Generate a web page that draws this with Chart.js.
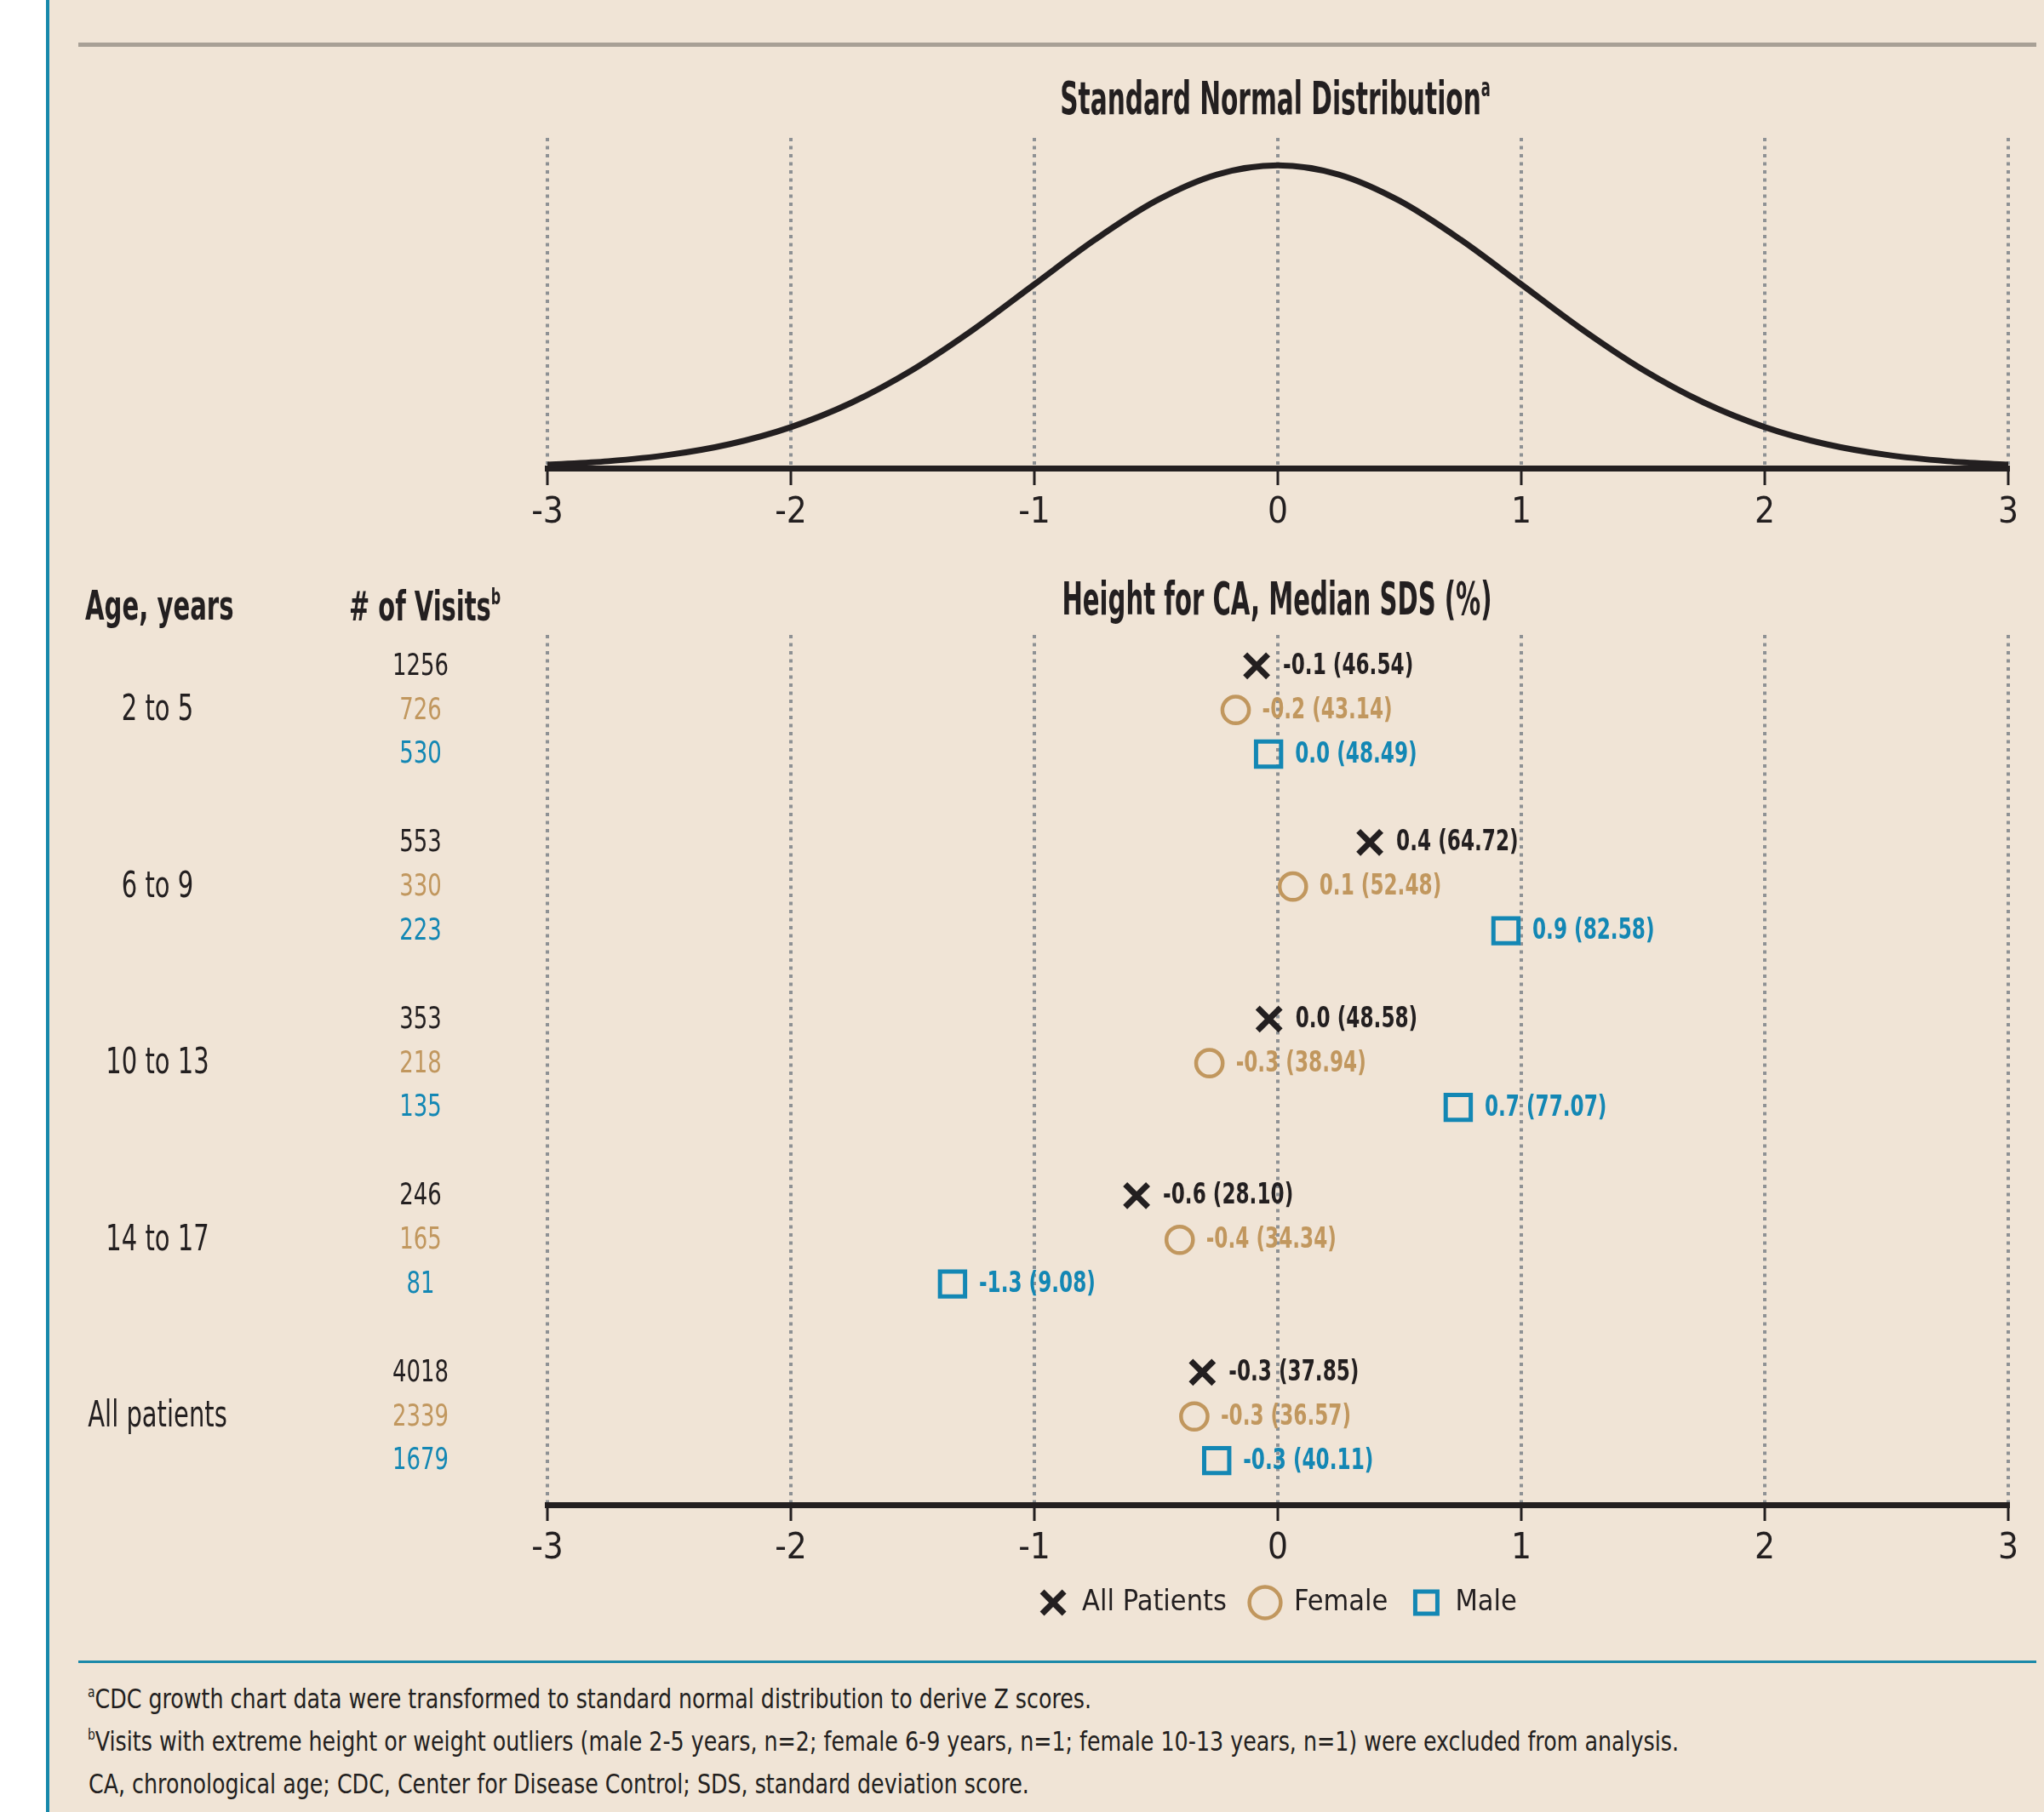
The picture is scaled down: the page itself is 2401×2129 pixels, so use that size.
<!DOCTYPE html>
<html>
<head>
<meta charset="utf-8">
<script src="https://cdn.jsdelivr.net/npm/chart.js@4.4.1/dist/chart.umd.min.js"></script>
<style>
html,body{margin:0;padding:0;}
body{width:2401px;height:2129px;position:relative;background:#ffffff;overflow:hidden;
  font-family:"Liberation Sans Narrow","DejaVu Sans Condensed","Liberation Sans",sans-serif;color:#231F20;}
#panel{position:absolute;left:58px;top:0;width:2343px;height:2129px;background:#F0E4D6;}
#vline{position:absolute;left:54px;top:0;width:4px;height:2129px;background:#1688AB;}
#grayrule{position:absolute;left:92px;top:50px;width:2300px;height:5px;background:#A8A096;}
#tealrule{position:absolute;left:92px;top:1951px;width:2300px;height:3px;background:#1B89A9;}
.chartbox{position:absolute;left:0;width:2401px;}
.t{position:absolute;white-space:nowrap;line-height:1;z-index:5;}
.c{transform-origin:center top;}
.l{transform-origin:left top;}
.b{font-weight:bold;}
.sup{font-size:0.55em;position:relative;top:-0.72em;}
</style>
</head>
<body>
<div id="panel"></div>
<div id="vline"></div>
<div id="grayrule"></div>
<div id="tealrule"></div>

<div class="chartbox" style="top:140px;height:490px;"><canvas id="normalChart"></canvas></div>
<div class="chartbox" style="top:720px;height:1190px;"><canvas id="sdsChart"></canvas></div>

<div class="t b c" style="left:1498px;top:89px;font-size:54px;transform:translateX(-50%) scaleX(0.61);">Standard Normal Distribution<span class="sup">a</span></div>
<div class="t b c" style="left:1500px;top:677px;font-size:54px;transform:translateX(-50%) scaleX(0.6);">Height for CA, Median SDS (%)</div>
<div class="t b l" style="left:100px;top:687px;font-size:48px;transform:scaleX(0.675);">Age, years</div>
<div class="t b l" style="left:410px;top:688px;font-size:48px;transform:scaleX(0.67);"># of Visits<span class="sup">b</span></div>

<div class="t l" style="left:103px;top:1980px;font-size:32px;transform:scaleX(0.88);"><span class="sup">a</span>CDC growth chart data were transformed to standard normal distribution to derive Z scores.</div>
<div class="t l" style="left:103px;top:2030px;font-size:32px;transform:scaleX(0.88);"><span class="sup">b</span>Visits with extreme height or weight outliers (male 2-5 years, n=2; female 6-9 years, n=1; female 10-13 years, n=1) were excluded from analysis.</div>
<div class="t l" style="left:104px;top:2080px;font-size:32px;transform:scaleX(0.88);">CA, chronological age; CDC, Center for Disease Control; SDS, standard deviation score.</div>

<script>
// ---------- DATA ----------
const xTicks = [-3, -2, -1, 0, 1, 2, 3];

// standard normal curve
const curveZ = [-3, -2.75, -2.5, -2.25, -2, -1.75, -1.5, -1.25, -1, -0.75, -0.5, -0.25, 0,
                0.25, 0.5, 0.75, 1, 1.25, 1.5, 1.75, 2, 2.25, 2.5, 2.75, 3];
const curveDensity = [0.0044, 0.0091, 0.0175, 0.0317, 0.0540, 0.0863, 0.1295, 0.1826, 0.2420, 0.3011, 0.3521, 0.3867, 0.3989,
                      0.3867, 0.3521, 0.3011, 0.2420, 0.1826, 0.1295, 0.0863, 0.0540, 0.0317, 0.0175, 0.0091, 0.0044];

const ageGroups = ["2 to 5", "6 to 9", "10 to 13", "14 to 17", "All patients"];
const seriesNames = ["All Patients", "Female", "Male"];

const allVisits    = [1256, 553, 353, 246, 4018];
const femaleVisits = [726, 330, 218, 165, 2339];
const maleVisits   = [530, 223, 135, 81, 1679];

// median SDS (rounded, as printed) and percentile
const allSDS    = [-0.1, 0.4, 0.0, -0.6, -0.3];
const allPct    = [46.54, 64.72, 48.58, 28.10, 37.85];
const femaleSDS = [-0.2, 0.1, -0.3, -0.4, -0.3];
const femalePct = [43.14, 52.48, 38.94, 34.34, 36.57];
const maleSDS   = [0.0, 0.9, 0.7, -1.3, -0.3];
const malePct   = [48.49, 82.58, 77.07, 9.08, 40.11];

// marker positions (unrounded SDS) as plotted
const allZ    = [-0.087, 0.378, -0.036, -0.580, -0.310];
const femaleZ = [-0.173, 0.062, -0.281, -0.403, -0.343];
const maleZ   = [-0.038, 0.937, 0.741, -1.336, -0.251];

// ---------- STYLE ----------
const FONT = '"Liberation Sans Narrow","DejaVu Sans Condensed","Liberation Sans",sans-serif';
const INK = '#231F20';
const TAN = '#C1975E';
const BLUE = '#1387B4';
const GRID = '#8E9194';
const seriesColors = [INK, TAN, BLUE];

function drawCond(ctx, text, x, y, font, color, sx, align) {
  ctx.save();
  ctx.font = font;
  ctx.fillStyle = color;
  ctx.textBaseline = 'middle';
  ctx.textAlign = align;
  ctx.translate(x, y);
  ctx.scale(sx, 1);
  ctx.fillText(text, 0, 0);
  ctx.restore();
}

function xScaleOpts(tickLen, tickPad, axisH) {
  return {
    type: 'linear', min: -3, max: 3,
    afterBuildTicks: s => { s.ticks = xTicks.map(v => ({value: v})); },
    ticks: { font: {family: FONT, size: 42}, color: INK, padding: tickPad, maxRotation: 0,
             callback: v => String(v) },
    grid: { color: GRID, lineWidth: 4, drawTicks: true, tickLength: tickLen, tickWidth: 3,
            tickColor: INK, drawOnChartArea: true },
    border: { display: true, color: INK, width: 7, dash: [4, 5.5] },
    afterFit: s => { s.height = axisH; }
  };
}

// ---------- TOP: normal curve ----------
new Chart(document.getElementById('normalChart'), {
  type: 'line',
  data: {
    datasets: [{
      data: curveZ.map((z, i) => ({x: z, y: curveDensity[i]})),
      borderColor: INK, borderWidth: 7, pointRadius: 0, fill: false,
      cubicInterpolationMode: 'monotone'
    }]
  },
  options: {
    responsive: true, maintainAspectRatio: false, animation: false, events: [],
    layout: { padding: {left: 643, right: 42, top: 22, bottom: 0} },
    plugins: { legend: {display: false}, tooltip: {enabled: false} },
    scales: {
      x: xScaleOpts(20, 8, 80),
      y: { display: false, min: 0, max: 0.435 }
    }
  }
});

// ---------- BOTTOM: SDS dot plot ----------
const rowOf = (g, s) => g * 4 + s;
const zSets = [allZ, femaleZ, maleZ];
const sdsSets = [allSDS, femaleSDS, maleSDS];
const pctSets = [allPct, femalePct, malePct];
const visitSets = [allVisits, femaleVisits, maleVisits];
const styles = [
  {pointStyle: 'crossRot', pointRadius: 19, pointBorderWidth: 7},
  {pointStyle: 'circle', pointRadius: 15.6, pointBorderWidth: 4.5},
  {pointStyle: 'rect', pointRadius: 20.8, pointBorderWidth: 5}
];

const datasets = seriesNames.map((name, s) => Object.assign({
  label: name,
  data: ageGroups.map((g, gi) => ({x: zSets[s][gi], y: rowOf(gi, s)})),
  labelTexts: ageGroups.map((g, gi) => sdsSets[s][gi].toFixed(1) + ' (' + pctSets[s][gi].toFixed(2) + ')'),
  showLine: false,
  borderColor: seriesColors[s],
  backgroundColor: 'rgba(0,0,0,0)',
  pointBorderColor: seriesColors[s],
  pointBackgroundColor: 'rgba(0,0,0,0)'
}, styles[s]));

const sdsLabelPlugin = {
  id: 'sdsLabels',
  afterDatasetsDraw(chart) {
    const ctx = chart.ctx;
    chart.data.datasets.forEach((ds, di) => {
      chart.getDatasetMeta(di).data.forEach((pt, i) => {
        drawCond(ctx, ds.labelTexts[i], pt.x + 31, pt.y + 1, 'bold 33px ' + FONT, seriesColors[di], 0.78, 'left');
      });
    });
  }
};

const rowLabelPlugin = {
  id: 'rowLabels',
  afterDraw(chart) {
    const ctx = chart.ctx;
    const y = chart.scales.y;
    ageGroups.forEach((g, gi) => {
      visitSets.forEach((vals, s) => {
        drawCond(ctx, String(vals[gi]), 494, y.getPixelForValue(rowOf(gi, s)) + 1, '36px ' + FONT, seriesColors[s], 0.8, 'center');
      });
      drawCond(ctx, g, 185, y.getPixelForValue(rowOf(gi, 1)) + 1, '43px ' + FONT, INK, 0.75, 'center');
    });
  }
};

new Chart(document.getElementById('sdsChart'), {
  type: 'scatter',
  data: { datasets: datasets },
  options: {
    responsive: true, maintainAspectRatio: false, animation: false, events: [],
    layout: { padding: {left: 643, right: 42, top: 26, bottom: 0} },
    plugins: {
      tooltip: {enabled: false},
      legend: {
        display: true, position: 'bottom',
        labels: { usePointStyle: true, boxWidth: 34, boxHeight: 26, padding: 28,
                  font: {family: FONT, size: 34}, color: INK }
      }
    },
    scales: {
      x: xScaleOpts(19, 8, 70),
      y: { display: false, reverse: true, min: -0.7, max: 19 }
    }
  },
  plugins: [sdsLabelPlugin, rowLabelPlugin]
});
</script>
</body>
</html>
